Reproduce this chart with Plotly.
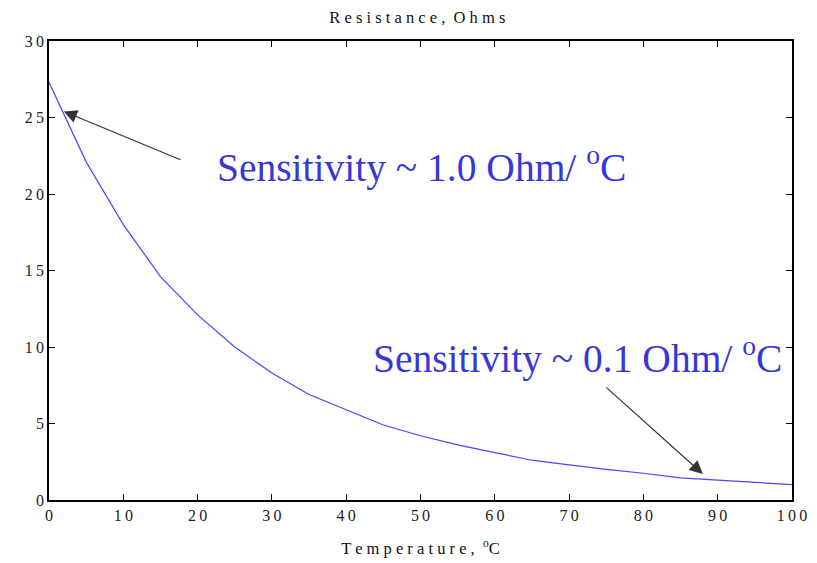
import plotly.graph_objects as go

temperature = [0, 5, 10, 15, 20, 25, 30, 35, 40, 45, 50, 55, 60, 65, 70, 75, 80, 85, 90, 95, 100]
resistance = [27.3, 22.1, 18.0, 14.6, 12.1, 10.0, 8.3, 6.9, 5.9, 4.9, 4.2, 3.6, 3.1, 2.6, 2.3, 2.0, 1.75, 1.45, 1.3, 1.15, 1.0]

x_ticks = list(range(0, 101, 10))
y_ticks = list(range(0, 31, 5))

HS = "\u2009"
x_tick_text = [HS.join(str(v)) for v in x_ticks]
y_tick_text = [HS.join(str(v)) for v in y_ticks]

serif = "Liberation Serif, Times New Roman, serif"

fig = go.Figure()
fig.add_trace(go.Scatter(x=temperature, y=resistance, mode="lines",
                         line=dict(color="rgb(70,70,255)", width=1.2),
                         showlegend=False, hoverinfo="skip"))

axis_common = dict(showgrid=False, zeroline=False, showline=True, linecolor="black",
                   linewidth=1.5, mirror="ticks", ticks="inside", ticklen=6,
                   tickcolor="black", automargin=False,
                   tickfont=dict(family=serif, size=16, color="#222"))

fig.update_xaxes(range=[0, 100], tickvals=x_ticks, ticktext=x_tick_text, **axis_common,
                 title=dict(text="T e m p e r a t u r e ,  <sup>o</sup>C",
                            font=dict(family=serif, size=16.5, color="#111"), standoff=19))
fig.update_yaxes(range=[0, 30], tickvals=y_ticks, ticktext=y_tick_text, **axis_common)

fig.add_annotation(x=2.0, y=25.4, ax=17.9, ay=22.2, xref="x", yref="y", axref="x", ayref="y",
                   text="", showarrow=True, arrowhead=2, arrowsize=2.2, arrowwidth=1.2,
                   arrowcolor="#333")
fig.add_annotation(x=88.0, y=1.7, ax=74.8, ay=7.45, xref="x", yref="y", axref="x", ayref="y",
                   text="", showarrow=True, arrowhead=2, arrowsize=2.2, arrowwidth=1.2,
                   arrowcolor="#333")

fig.add_annotation(x=22.3, y=21.95, xref="x", yref="y", xanchor="left", yanchor="middle",
                   text="Sensitivity ~ 1.0 Ohm/ <sup>o</sup>C", showarrow=False,
                   font=dict(family=serif, size=39.5, color="rgb(55,55,215)"))
fig.add_annotation(x=43.4, y=9.47, xref="x", yref="y", xanchor="left", yanchor="middle",
                   text="Sensitivity ~ 0.1 Ohm/ <sup>o</sup>C", showarrow=False,
                   font=dict(family=serif, size=39.5, color="rgb(55,55,215)"))

# page body has an 8px margin in the browser, so the figure is sized to fit the window
fig.update_layout(
    width=809, height=555,
    margin=dict(l=41, r=25, t=33, b=63),
    paper_bgcolor="white", plot_bgcolor="white",
    title=dict(text="R e s i s t a n c e ,  O h m s", x=0.506, xanchor="center", y=0.984, yanchor="middle",
               font=dict(family=serif, size=16.5, color="#111")),
)

fig.write_html("out.html")
